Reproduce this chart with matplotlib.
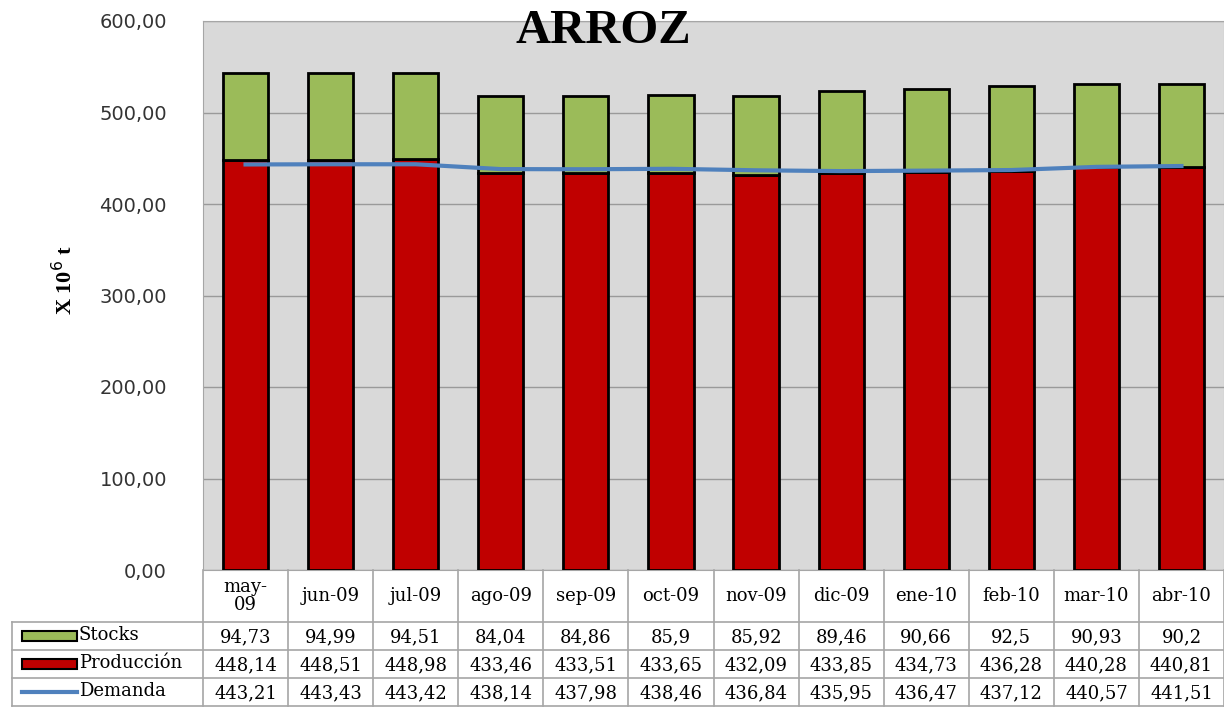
import numpy as np
import matplotlib.pyplot as plt
from matplotlib.patches import Rectangle

meses = ['may-\n09', 'jun-09', 'jul-09', 'ago-09', 'sep-09', 'oct-09',
         'nov-09', 'dic-09', 'ene-10', 'feb-10', 'mar-10', 'abr-10']
stocks = [94.73, 94.99, 94.51, 84.04, 84.86, 85.9, 85.92, 89.46, 90.66, 92.5, 90.93, 90.2]
produccion = [448.14, 448.51, 448.98, 433.46, 433.51, 433.65, 432.09, 433.85,
              434.73, 436.28, 440.28, 440.81]
demanda = [443.21, 443.43, 443.42, 438.14, 437.98, 438.46, 436.84, 435.95,
           436.47, 437.12, 440.57, 441.51]
y_ticks = [0, 100, 200, 300, 400, 500, 600]

VERDE = '#9BBB59'
ROJO = '#C00000'
AZUL = '#4F81BD'
GRIS = '#A6A6A6'


def fmt(v):
    s = ('%.2f' % v).rstrip('0').rstrip('.')
    return s.replace('.', ',')


def main():
    W, H = 1224, 709
    fig = plt.figure(figsize=(W / 100, H / 100), dpi=100)
    x0, x1 = 203, 1224
    ytop, ybot = 21, 570
    ax = fig.add_axes([x0 / W, (H - ybot) / H, (x1 - x0) / W, (ybot - ytop) / H])
    ax.set_facecolor('#D9D9D9')
    x = np.arange(len(meses))

    ax.bar(x, produccion, width=0.53, color=ROJO, edgecolor='black', linewidth=2, zorder=3)
    ax.bar(x, stocks, width=0.53, bottom=produccion, color=VERDE, edgecolor='black',
           linewidth=2, zorder=3)
    ax.plot(x, demanda, color=AZUL, linewidth=3, zorder=4)

    ax.set_xlim(-0.5, len(meses) - 0.5)
    ax.set_ylim(0, 600)
    ax.set_yticks(y_ticks)
    ax.set_yticklabels(['%d,00' % v for v in y_ticks], fontsize=14, color='#333333')
    ax.set_xticks([])
    ax.tick_params(axis='y', length=0, pad=26)
    ax.grid(axis='y', color='#9A9A9A', linewidth=1, zorder=0)
    ax.set_axisbelow(True)
    for s in ax.spines.values():
        s.set_color(GRIS)

    # Titulo y etiqueta del eje
    fig.text(603 / W, 1 - 31 / H, 'ARROZ', fontsize=35, fontweight='bold',
             family='Liberation Serif', ha='center', va='center')
    fig.text(65 / W, 1 - 280 / H, 'X 10$^{6}$ t', fontsize=16, fontweight='bold',
             family='Liberation Serif', rotation=90, ha='center', va='center')

    # Tabla de datos
    tb = fig.add_axes([x0 / W, 0, (x1 - x0) / W, (H - ybot) / H])
    tb.set_xlim(-0.5, len(meses) - 0.5)
    tb.set_ylim(H - ybot, 0)
    tb.axis('off')
    cat_px = (x1 - x0) / len(meses)
    left = -0.5 - (x0 - 12) / cat_px
    rows = [52, 80, 108, 136]
    kw = dict(color=GRIS, linewidth=1.2, clip_on=False)
    for r in rows:
        tb.plot([left, len(meses) - 0.5], [r, r], **kw)
    for i in range(len(meses) + 1):
        tb.plot([i - 0.5, i - 0.5], [0, rows[-1]], **kw)
    tb.plot([left, left], [rows[0], rows[-1]], **kw)

    fs = 13
    for i, m in enumerate(meses):
        tb.text(i, 26, m, ha='center', va='center', fontsize=fs, family='DejaVu Serif',
                linespacing=0.95)
        for j, serie in enumerate([stocks, produccion, demanda]):
            tb.text(i, (rows[j] + rows[j + 1]) / 2 + 1, fmt(serie[i]), ha='center',
                    va='center', fontsize=fs, family='DejaVu Serif')

    nombres = ['Stocks', 'Producción', 'Demanda']
    kx0 = left + 10 / cat_px
    kw_ = 55 / cat_px
    for j, nombre in enumerate(nombres):
        yc = (rows[j] + rows[j + 1]) / 2
        if j < 2:
            tb.add_patch(Rectangle((kx0, yc - 5), kw_, 10, facecolor=[VERDE, ROJO][j],
                                   edgecolor='black', linewidth=1.5, clip_on=False))
        else:
            tb.plot([kx0, kx0 + kw_], [yc, yc], color=AZUL, linewidth=3, clip_on=False)
        tb.text(kx0 + kw_ + 2 / cat_px, yc - 1, nombre, ha='left', va='center',
                fontsize=fs, family='DejaVu Serif')

    fig.savefig('out.png', dpi=100)


if __name__ == '__main__':
    main()
